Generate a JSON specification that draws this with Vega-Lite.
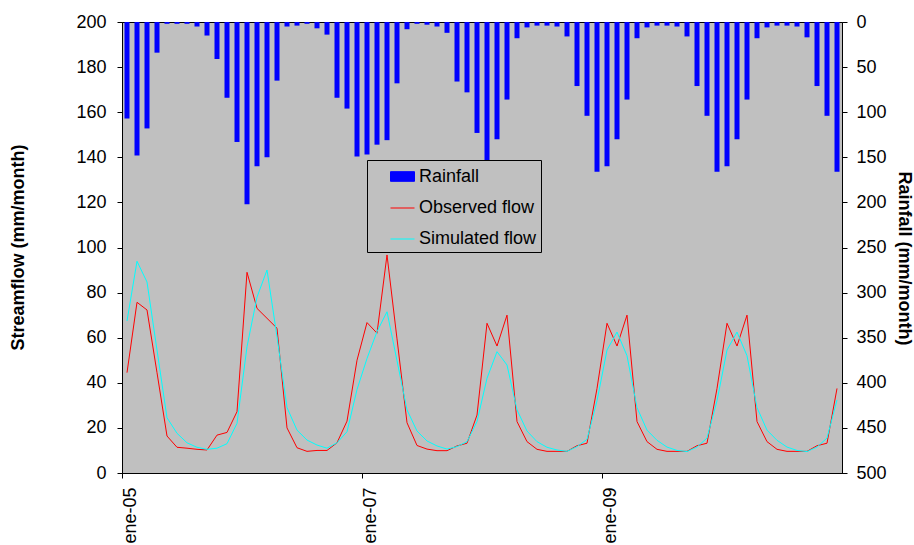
{
  "$schema": "https://vega.github.io/schema/vega-lite/v6.json",
  "width": 720,
  "height": 451,
  "autosize": {"type": "none"},
  "padding": {"left": 122, "top": 22, "right": 72, "bottom": 72},
  "background": "white",
  "config": {
    "font": "Liberation Sans",
    "view": {"fill": "#C0C0C0", "stroke": "#000000", "strokeWidth": 1},
    "axis": {
      "grid": false,
      "domainColor": "#000000",
      "tickColor": "#000000",
      "labelColor": "#000000",
      "titleColor": "#000000",
      "labelFont": "Liberation Sans",
      "titleFont": "Liberation Sans",
      "labelFontSize": 18,
      "titleFontSize": 18,
      "titleFontWeight": "bold",
      "tickSize": 5
    }
  },
  "data": {
    "values": [
      {"month": "2005-01", "rain": 107, "obs": 44.5, "sim": 67.4},
      {"month": "2005-02", "rain": 148, "obs": 75.7, "sim": 93.9},
      {"month": "2005-03", "rain": 118, "obs": 72.3, "sim": 84.7},
      {"month": "2005-04", "rain": 34, "obs": 44.5, "sim": 54.5},
      {"month": "2005-05", "rain": 2, "obs": 16.4, "sim": 24.5},
      {"month": "2005-06", "rain": 2, "obs": 11.4, "sim": 17.6},
      {"month": "2005-07", "rain": 2, "obs": 11, "sim": 13.4},
      {"month": "2005-08", "rain": 5, "obs": 10.5, "sim": 11.4},
      {"month": "2005-09", "rain": 15, "obs": 10.2, "sim": 10.5},
      {"month": "2005-10", "rain": 41, "obs": 16.8, "sim": 11},
      {"month": "2005-11", "rain": 84, "obs": 18, "sim": 13},
      {"month": "2005-12", "rain": 133, "obs": 27.2, "sim": 22},
      {"month": "2006-01", "rain": 202, "obs": 89, "sim": 56},
      {"month": "2006-02", "rain": 160, "obs": 73, "sim": 78},
      {"month": "2006-03", "rain": 150, "obs": 68.6, "sim": 90},
      {"month": "2006-04", "rain": 65, "obs": 64.2, "sim": 60.4},
      {"month": "2006-05", "rain": 5, "obs": 20, "sim": 29},
      {"month": "2006-06", "rain": 4, "obs": 11.2, "sim": 19},
      {"month": "2006-07", "rain": 2, "obs": 9.6, "sim": 14.6},
      {"month": "2006-08", "rain": 7, "obs": 10, "sim": 12.4},
      {"month": "2006-09", "rain": 14, "obs": 10, "sim": 11},
      {"month": "2006-10", "rain": 84, "obs": 13.4, "sim": 13.4},
      {"month": "2006-11", "rain": 96, "obs": 23, "sim": 18.3},
      {"month": "2006-12", "rain": 149, "obs": 50, "sim": 37},
      {"month": "2007-01", "rain": 147, "obs": 66.7, "sim": 50.8},
      {"month": "2007-02", "rain": 136, "obs": 62, "sim": 62.7},
      {"month": "2007-03", "rain": 131, "obs": 96.7, "sim": 71.5},
      {"month": "2007-04", "rain": 68, "obs": 59.5, "sim": 49.8},
      {"month": "2007-05", "rain": 8, "obs": 22.3, "sim": 28},
      {"month": "2007-06", "rain": 2, "obs": 12.2, "sim": 18.6},
      {"month": "2007-07", "rain": 3, "obs": 10.6, "sim": 14.2},
      {"month": "2007-08", "rain": 5, "obs": 9.9, "sim": 12},
      {"month": "2007-09", "rain": 12, "obs": 9.9, "sim": 10.6},
      {"month": "2007-10", "rain": 66, "obs": 12, "sim": 11.7},
      {"month": "2007-11", "rain": 78, "obs": 13.2, "sim": 13.9},
      {"month": "2007-12", "rain": 123, "obs": 25.7, "sim": 22.8},
      {"month": "2008-01", "rain": 160, "obs": 66.4, "sim": 42},
      {"month": "2008-02", "rain": 130, "obs": 56.3, "sim": 53.8},
      {"month": "2008-03", "rain": 86, "obs": 70, "sim": 47.9},
      {"month": "2008-04", "rain": 18, "obs": 22.8, "sim": 28},
      {"month": "2008-05", "rain": 6, "obs": 13.9, "sim": 18.6},
      {"month": "2008-06", "rain": 4, "obs": 10.5, "sim": 13.9},
      {"month": "2008-07", "rain": 4, "obs": 9.6, "sim": 11.4},
      {"month": "2008-08", "rain": 5, "obs": 9.6, "sim": 10.2},
      {"month": "2008-09", "rain": 16, "obs": 9.6, "sim": 9.6},
      {"month": "2008-10", "rain": 71, "obs": 12.1, "sim": 11.7},
      {"month": "2008-11", "rain": 104, "obs": 13.2, "sim": 14.9},
      {"month": "2008-12", "rain": 166, "obs": 37.5, "sim": 32},
      {"month": "2009-01", "rain": 160, "obs": 66.4, "sim": 54.5},
      {"month": "2009-02", "rain": 130, "obs": 56.3, "sim": 62.5},
      {"month": "2009-03", "rain": 86, "obs": 70, "sim": 52},
      {"month": "2009-04", "rain": 18, "obs": 22.8, "sim": 29},
      {"month": "2009-05", "rain": 6, "obs": 13.9, "sim": 19},
      {"month": "2009-06", "rain": 4, "obs": 10.5, "sim": 14.5},
      {"month": "2009-07", "rain": 4, "obs": 9.6, "sim": 11.5},
      {"month": "2009-08", "rain": 5, "obs": 9.6, "sim": 10},
      {"month": "2009-09", "rain": 16, "obs": 9.6, "sim": 9.5},
      {"month": "2009-10", "rain": 71, "obs": 12.1, "sim": 11.5},
      {"month": "2009-11", "rain": 104, "obs": 13.2, "sim": 15.5},
      {"month": "2009-12", "rain": 166, "obs": 37.5, "sim": 32},
      {"month": "2010-01", "rain": 160, "obs": 66.4, "sim": 54.5},
      {"month": "2010-02", "rain": 130, "obs": 56.3, "sim": 62.5},
      {"month": "2010-03", "rain": 86, "obs": 70, "sim": 52},
      {"month": "2010-04", "rain": 18, "obs": 22.8, "sim": 29},
      {"month": "2010-05", "rain": 6, "obs": 13.9, "sim": 19},
      {"month": "2010-06", "rain": 4, "obs": 10.5, "sim": 14.5},
      {"month": "2010-07", "rain": 4, "obs": 9.6, "sim": 11.5},
      {"month": "2010-08", "rain": 5, "obs": 9.6, "sim": 10},
      {"month": "2010-09", "rain": 17, "obs": 9.6, "sim": 9.5},
      {"month": "2010-10", "rain": 71, "obs": 12.1, "sim": 11.5},
      {"month": "2010-11", "rain": 104, "obs": 13.2, "sim": 15.5},
      {"month": "2010-12", "rain": 166, "obs": 37.5, "sim": 32.4}
    ]
  },
  "encoding": {
    "x": {
      "field": "month",
      "type": "ordinal",
      "scale": {"paddingInner": 0, "paddingOuter": 0},
      "axis": {
        "title": null,
        "values": ["2005-01", "2007-01", "2009-01"],
        "bandPosition": 0,
        "labelExpr": "'ene-' + substring(datum.value, 2, 4)",
        "labelAngle": 270,
        "labelAlign": "right",
        "labelBaseline": "middle",
        "labelOffset": 4,
        "labelPadding": 9,
        "domain": true
      }
    }
  },
  "layer": [
    {
      "mark": {"type": "bar", "width": {"band": 0.5}},
      "encoding": {
        "y": {
          "field": "rain",
          "type": "quantitative",
          "scale": {"domain": [0, 500], "reverse": true, "nice": false, "zero": true},
          "axis": {
            "orient": "right",
            "values": [0, 50, 100, 150, 200, 250, 300, 350, 400, 450, 500],
            "title": "Rainfall (mm/month)",
            "titleAngle": 90,
            "titleX": 61,
            "titleY": 236,
            "titleAlign": "center",
            "titleBaseline": "middle",
            "labelPadding": 9
          }
        },
        "color": {
          "datum": "Rainfall",
          "scale": {
            "domain": ["Rainfall", "Observed flow", "Simulated flow"],
            "range": ["#0000FF", "#FF0000", "#00FFFF"]
          },
          "legend": {
            "title": null,
            "orient": "none",
            "legendX": 245,
            "legendY": 138,
            "padding": 4,
            "fillColor": "#C0C0C0",
            "strokeColor": "#000000",
            "labelFont": "Liberation Sans",
            "labelFontSize": 18,
            "labelColor": "#000000",
            "symbolSize": 576,
            "rowPadding": 9,
            "symbolOffset": 19,
            "labelOffset": 4,
            "encode": {
              "symbols": {
                "update": {
                  "shape": {"signal": "datum.value === 'Rainfall' ? 'M-1,-0.4H1V0.4H-1Z' : 'M-1,0.042H1'"},
                  "fill": {"signal": "datum.value === 'Rainfall' ? '#0000FF' : 'transparent'"},
                  "stroke": {"signal": "datum.value === 'Observed flow' ? '#FF0000' : (datum.value === 'Simulated flow' ? '#00FFFF' : 'transparent')"},
                  "strokeWidth": {"value": 1},
                  "opacity": {"value": 1},
                  "fillOpacity": {"value": 1}
                }
              }
            }
          }
        }
      }
    },
    {
      "layer": [
        {
          "mark": {"type": "line", "strokeWidth": 1},
          "encoding": {
            "y": {
              "field": "obs",
              "type": "quantitative",
              "scale": {"domain": [0, 200], "nice": false},
              "axis": {
                "orient": "left",
                "values": [0, 20, 40, 60, 80, 100, 120, 140, 160, 180, 200],
                "title": "Streamflow (mm/month)",
                "titleAngle": 270,
                "titleX": -104,
                "titleY": 225,
                "titleAlign": "center",
                "titleBaseline": "middle",
                "labelPadding": 11
              }
            },
            "color": {"datum": "Observed flow"}
          }
        },
        {
          "mark": {"type": "line", "strokeWidth": 1},
          "encoding": {
            "y": {
              "field": "sim",
              "type": "quantitative",
              "title": "Streamflow (mm/month)"
            },
            "color": {"datum": "Simulated flow"}
          }
        }
      ]
    }
  ],
  "resolve": {"scale": {"y": "independent"}}
}
